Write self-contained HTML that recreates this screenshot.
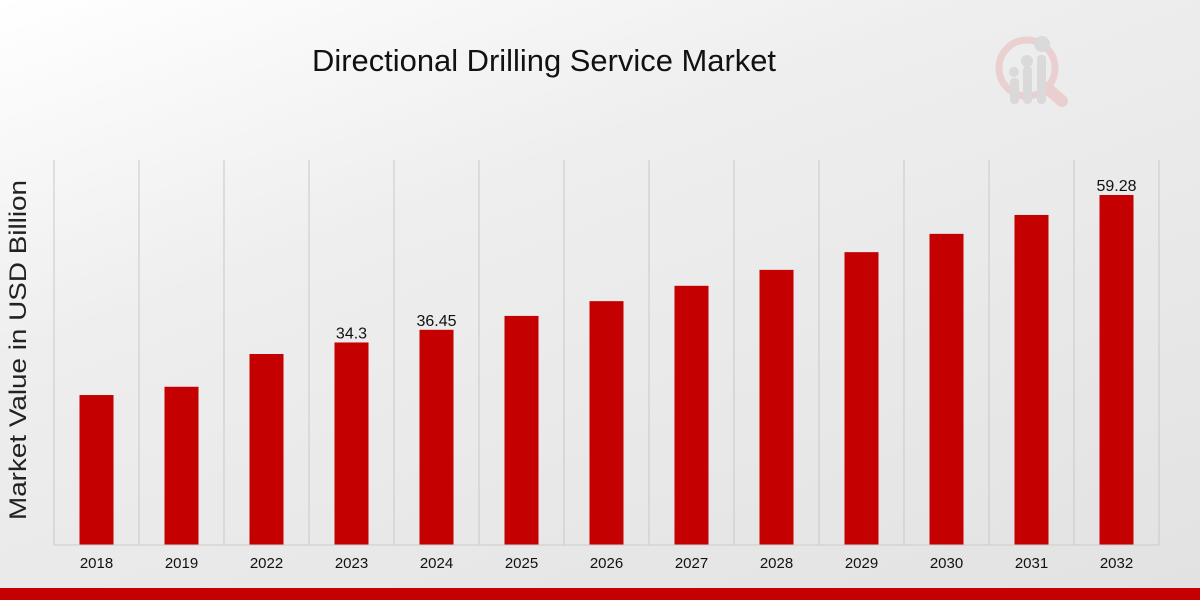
<!DOCTYPE html>
<html><head><meta charset="utf-8"><style>
html,body{margin:0;padding:0}
body{width:1200px;height:600px;overflow:hidden;background:linear-gradient(160deg,#ffffff 0%,#eeeeee 35%,#e2e2e2 100%);font-family:"Liberation Sans",sans-serif;position:relative}
svg{position:absolute;left:0;top:0}
</style></head><body>
<svg width="1200" height="600">
<g opacity="0.5">
<circle cx="1027" cy="68" r="28" fill="none" stroke="#e8b4b4" stroke-width="7"/>
<line x1="1047" y1="88" x2="1062" y2="101" stroke="#e8b4b4" stroke-width="12" stroke-linecap="round"/>
<rect x="1010" y="78" width="9" height="26" rx="4" fill="#c8c8c8"/>
<rect x="1023" y="66" width="9" height="38" rx="4" fill="#c8c8c8"/>
<rect x="1037" y="55" width="9" height="49" rx="4" fill="#c8c8c8"/>
<circle cx="1014" cy="72" r="5" fill="#c8c8c8"/><circle cx="1027" cy="61" r="6" fill="#c8c8c8"/><circle cx="1042" cy="44" r="8" fill="#c8c8c8"/>
</g>
<text x="544" y="71" text-anchor="middle" font-size="31" fill="#111" textLength="464" lengthAdjust="spacingAndGlyphs">Directional Drilling Service Market</text>
<text transform="translate(26 350) rotate(-90)" text-anchor="middle" font-size="24" fill="#222" textLength="340" lengthAdjust="spacingAndGlyphs">Market Value in USD Billion</text>
<g id="grid"></g><g id="bars"></g><g id="labels"></g>
<line x1="54" y1="545" x2="1159" y2="545" stroke="#ccc"/>
<rect x="0" y="588" width="1200" height="12" fill="#c40000"/>
</svg>
<script>
const categories=["2018","2019","2022","2023","2024","2025","2026","2027","2028","2029","2030","2031","2032"];
const values=[25.4,26.8,32.35,34.3,36.45,38.8,41.3,43.9,46.6,49.6,52.7,55.9,59.28];
const valueLabels=["","","","34.3","36.45","","","","","","","","59.28"];
const NS="http://www.w3.org/2000/svg";
const x0=54,step=85,base=545,scale=350/59.28;
const xPos=i=>x0+step*i+step/2;
const yPos=v=>base-v*scale;
const g=document.getElementById('grid'),b=document.getElementById('bars'),l=document.getElementById('labels');
function mk(tag,attrs,parent){const e=document.createElementNS(NS,tag);for(const k in attrs)e.setAttribute(k,attrs[k]);parent.appendChild(e);return e;}
for(let i=0;i<=categories.length;i++){
 const ln=mk('line',{x1:x0+step*i,x2:x0+step*i,y1:160,y2:545,stroke:'#c8c8c8'},g);
 
 
}
categories.forEach((c,i)=>{
 const r=mk('rect',{x:xPos(i)-17,y:yPos(values[i]),width:34,height:base-yPos(values[i]),fill:'#c40000'},b);
 
 
 const t=mk('text',{x:xPos(i),y:568,'text-anchor':'middle','font-size':15,fill:'#111'},l);
 t.textContent=c;
 
 
 if(valueLabels[i]){
  const v=mk('text',{x:xPos(i),y:yPos(values[i])-4,'text-anchor':'middle','font-size':16,fill:'#111'},l);
  v.textContent=valueLabels[i];
  
  
 }
});
</script>
</body></html>
